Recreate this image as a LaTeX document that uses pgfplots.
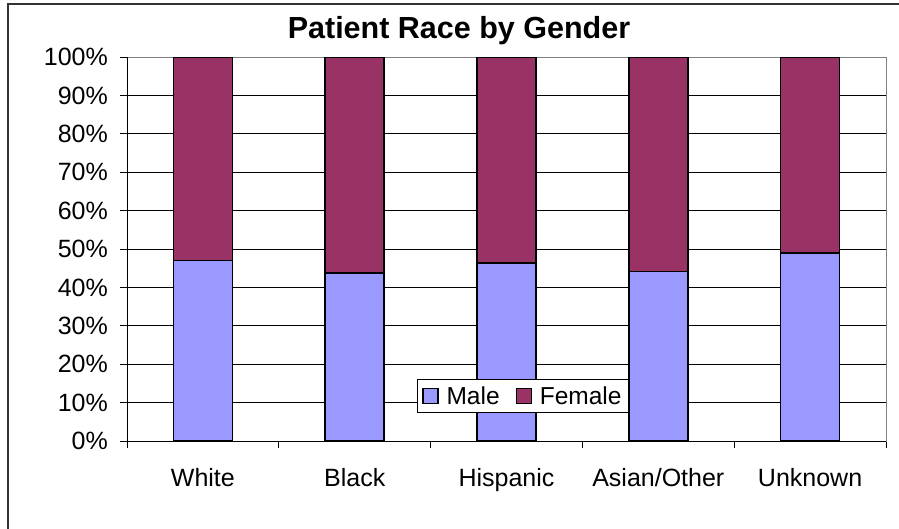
\documentclass[border=0pt]{standalone}
\usepackage{fontspec}
\setmainfont{Liberation Sans}
\usepackage{pgfplots}
\pgfplotsset{compat=1.18}
\definecolor{male}{HTML}{9999FF}
\definecolor{female}{HTML}{993366}
\begin{document}
\begin{tikzpicture}
\useasboundingbox (0bp,0bp) rectangle (899bp,-529bp);
\draw[line width=2bp, color=black!80] (8bp,-529bp) -- (8bp,-3.5bp) -- (899bp,-3.5bp);
\node[anchor=base, inner sep=0pt, font=\fontsize{30.5bp}{33bp}\selectfont\bfseries] at (459bp,-38bp) {Patient Race by Gender};
\begin{axis}[
  at={(127bp,-441bp)}, anchor=south west,
  width=759bp, height=384bp, scale only axis,
  xmin=-0.5, xmax=4.5, ymin=0, ymax=100,
  ybar stacked, bar width=59bp,
  xtick={0,1,2,3,4},
  xticklabels={White,Black,Hispanic,Asian/Other,Unknown},
  minor xtick={-0.5,0.5,1.5,2.5,3.5,4.5},
  ytick={0,10,...,100},
  yticklabels={0\%,10\%,20\%,30\%,40\%,50\%,60\%,70\%,80\%,90\%,100\%},
  xtick pos=left, ytick pos=left,
  ymajorgrids, grid style={black, line width=0.9bp},
  major x tick style={draw=none},
  tick align=outside, major tick length=7bp, minor tick length=7bp,
  tick style={black, line width=1bp},
  ticklabel style={font=\fontsize{25bp}{29bp}\selectfont, inner sep=0pt},
  xticklabel style={yshift=-20bp},
  yticklabel style={xshift=-12bp},
  /pgf/number format/assume math mode=true,
  axis line style={draw=gray, line width=1bp},
  legend columns=2,
  legend style={at={(0.5217,0.117)}, anchor=center, draw=black, line width=0.8bp,
    fill=white, font=\fontsize{24.5bp}{28bp}\selectfont, inner xsep=5bp, inner ysep=5bp,
    /tikz/every odd column/.append style={column sep=6bp},
    /tikz/every even column/.append style={column sep=14bp}},
]
\addplot[fill=male, draw=black, line width=1.5bp,
  legend image code/.code={\draw[fill=male,draw=black,line width=1.2bp] (0bp,-7.5bp) rectangle (15bp,7.5bp);}]
  coordinates {(0,47.0) (1,43.7) (2,46.3) (3,44.1) (4,49.0)};
\addplot[fill=female, draw=black, line width=1.5bp,
  legend image code/.code={\draw[fill=female,draw=black,line width=1.2bp] (0bp,-7.5bp) rectangle (15bp,7.5bp);}]
  coordinates {(0,53.0) (1,56.3) (2,53.7) (3,55.9) (4,51.0)};
\legend{Male,Female}
\draw[black, line width=1bp] (axis cs:-0.5,100) -- (axis cs:-0.5,0) -- (axis cs:4.5,0);
\end{axis}
\end{tikzpicture}
\end{document}
